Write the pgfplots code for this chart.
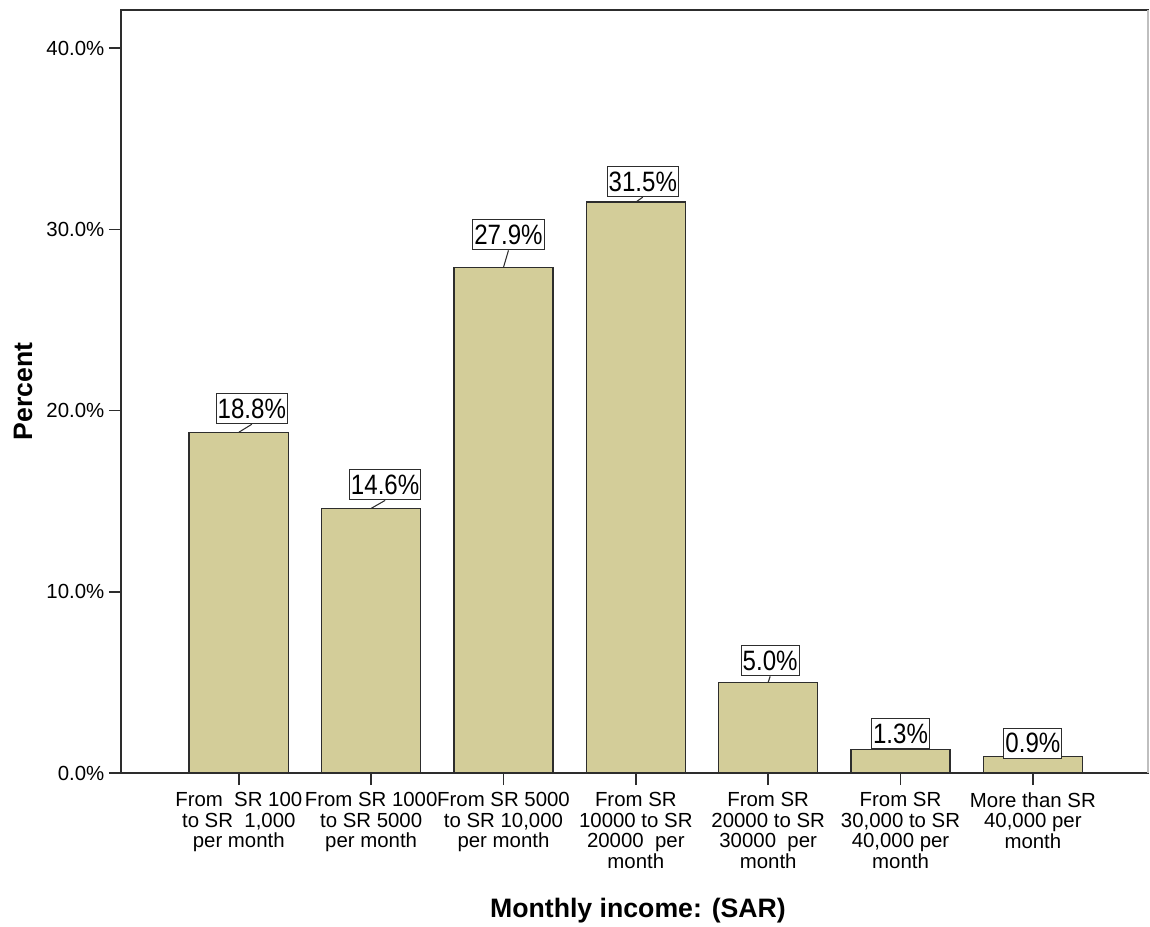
\documentclass[border=0pt]{standalone}
\usepackage{fontspec}
\setmainfont{Liberation Sans}
\usepackage{pgfplots}
\usepackage{pgfplotstable}
\pgfplotsset{compat=1.18}
\definecolor{barfill}{RGB}{211,205,153}
\definecolor{axisline}{RGB}{45,45,45}
\pgfplotstableread{
x y dx dy
0 18.8 9.75 6.0
1 14.6 10.5 6.0
2 27.9 3.75 12.75
3 31.5 5.25 3.75
4 5.0 1.5 4.5
5 1.3 0 0
6 0.9 0 -1.5
}\data
\begin{document}
\begin{tikzpicture}
\begin{axis}[
  width=770.25pt, height=572.25pt, scale only axis,
  xmin=-0.89, xmax=6.87, ymin=0, ymax=42.1,
  axis line style={axisline, line width=1.1pt},
  tick style={axisline, line width=1.1pt},
  major tick length=9pt,
  tick align=outside,
  xtick pos=lower, ytick pos=left,
  xtick={0,1,2,3,4,5,6},
  xticklabels={
    {From~~SR 100\\to SR~~1,000\\per month},
    {From SR 1000\\to SR 5000\\per month},
    {From SR 5000\\to SR 10,000\\per month},
    {From SR\\10000 to SR\\20000~~per\\month},
    {From SR\\20000 to SR\\30000~~per\\month},
    {From SR\\30,000 to SR\\40,000 per\\month},
    {More than SR\\40,000 per\\month}},
  ytick={0,10,20,30,40},
  yticklabels={0.0\%,10.0\%,20.0\%,30.0\%,40.0\%},
  x tick label style={align=center, font=\fontsize{15.3}{15.4}\selectfont, anchor=north, yshift=-2pt},
  y tick label style={font=\fontsize{15.3}{15.4}\selectfont},
  every axis y label/.style={at={(axis description cs:-0.0954,0.5)}, rotate=90, anchor=center},
  every axis x label/.style={at={(axis description cs:0.5,0)}, anchor=base, yshift=-108.5pt, xshift=2.6pt},
  ylabel={\fontsize{20}{24}\selectfont\bfseries Percent},
  xlabel={\fontsize{20}{24}\selectfont\bfseries Monthly income: (SAR)},
  clip=false,
]
\addplot[ybar, bar width=0.75, fill=barfill, draw=axisline, line width=1pt,
  visualization depends on={\thisrow{dx} \as \dx},
  visualization depends on={\thisrow{dy} \as \dy},
  nodes near coords={\scalebox{0.86}[1]{\pgfmathprintnumber[fixed,fixed zerofill,precision=1,assume math mode=true]{\pgfplotspointmeta}\%}},
  every node near coord/.style={anchor=south, xshift=\dx*1pt, yshift=\dy*1pt,
     draw=axisline, line width=0.8pt, fill=white, inner xsep=1.2pt, inner ysep=0pt,
     minimum height=22.5pt, font=\fontsize{21}{21}\selectfont, text=black},
] table[x=x,y=y] {\data};
\addplot[axisline, line width=0.8pt, quiver={u=\thisrow{dx}/99.26, v=\thisrow{dy}/13.593}]
  table[x=x,y=y] {\data};
\draw[black!25, line width=1pt] (rel axis cs:1,0) -- (rel axis cs:1,1);
\coordinate (ll) at (rel axis cs:0,0);
\coordinate (ur) at (rel axis cs:1,1);
\end{axis}
\pgfresetboundingbox
\path[use as bounding box] ([shift={(-90.75pt,-114.75pt)}]ll) rectangle ([shift={(1.5pt,7.5pt)}]ur);
\end{tikzpicture}
\end{document}
